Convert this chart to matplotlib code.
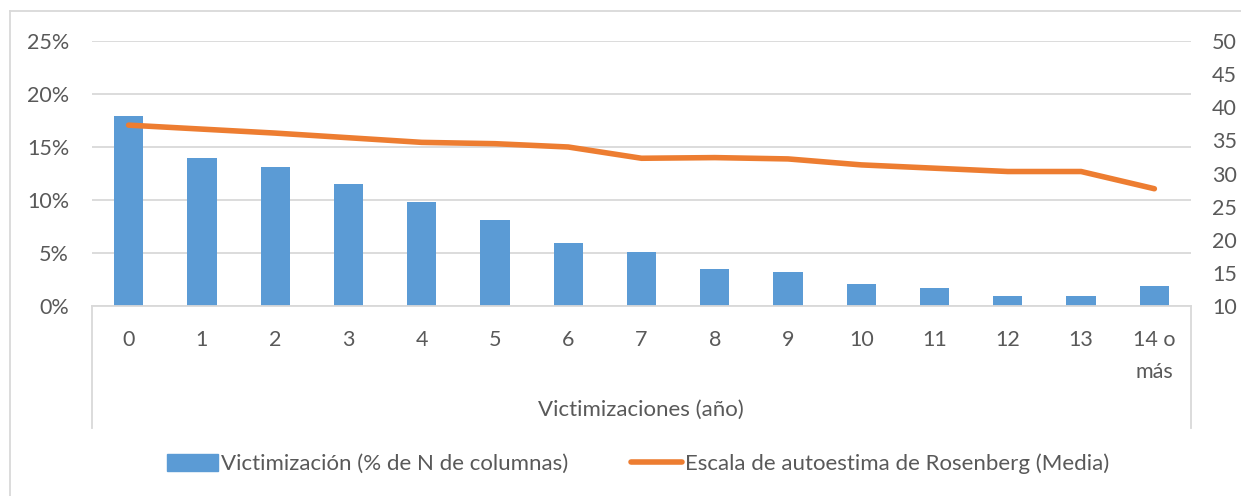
import matplotlib.pyplot as plt
import numpy as np
from matplotlib.lines import Line2D
from matplotlib.ticker import FuncFormatter

plt.rcParams['font.family'] = ['Lato', 'DejaVu Sans']

# Data
categories = ["0", "1", "2", "3", "4", "5", "6", "7", "8", "9", "10", "11", "12", "13", "14 o\nmás"]
victimizacion = [17.9, 14.0, 13.1, 11.5, 9.8, 8.1, 5.9, 5.1, 3.45, 3.2, 2.1, 1.7, 0.97, 0.94, 1.9]
rosenberg = [37.3, 36.7, 36.1, 35.4, 34.7, 34.5, 34.0, 32.3, 32.4, 32.2, 31.3, 30.8, 30.3, 30.3, 27.7]

W, H = 1241, 496
text_col = "#595959"
grid_col = "#d9d9d9"
bar_col = "#5b9bd5"
line_col = "#ed7d31"
fs = 15.5

fig = plt.figure(figsize=(W / 100, H / 100), dpi=100)

# plot area in pixels: x 92..1191, y 41..306
x0, x1, y0, y1 = 92, 1191, 41, 306
ax = fig.add_axes([x0 / W, 1 - y1 / H, (x1 - x0) / W, (y1 - y0) / H])
x = np.arange(len(categories))

ax.bar(x, victimizacion, width=0.4, color=bar_col, zorder=2)
ax.set_xlim(-0.5, len(categories) - 0.5)
ax.set_ylim(0, 25)
ax.set_yticks(np.arange(0, 26, 5))
ax.yaxis.set_major_formatter(FuncFormatter(lambda v, p: f"{v:.0f}%"))
ax.grid(axis="y", color=grid_col, linewidth=1.3, zorder=0)
ax.set_axisbelow(True)
for s in ["top", "right", "left"]:
    ax.spines[s].set_visible(False)
ax.spines["bottom"].set_color(grid_col)
ax.spines["bottom"].set_linewidth(1.3)
ax.tick_params(axis="y", length=0, pad=16.5, labelsize=fs, labelcolor=text_col)
ax.set_xticks(x)
ax.set_xticklabels(categories, va="top", ha="center", linespacing=1.75)
ax.tick_params(axis="x", length=0, pad=17, labelsize=fs, labelcolor=text_col)

ax2 = ax.twinx()
ax2.plot(x, rosenberg, color=line_col, linewidth=4, solid_capstyle="round", zorder=3)
ax2.set_ylim(10, 50)
ax2.set_yticks(np.arange(10, 51, 5))
for s in ["top", "right", "left", "bottom"]:
    ax2.spines[s].set_visible(False)
ax2.tick_params(axis="y", length=0, pad=15, labelsize=fs, labelcolor=text_col)

# category box lines below the axis
for px in (x0, x1):
    fig.add_artist(Line2D([px / W, px / W], [1 - y1 / H, 1 - 428 / H],
                          transform=fig.transFigure, color=grid_col, linewidth=1.3))

# outer chart frame (left and top visible)
fig.add_artist(Line2D([10 / W, 10 / W], [0, 1 - 11 / H], transform=fig.transFigure,
                      color=grid_col, linewidth=1.3))
fig.add_artist(Line2D([10 / W, 1], [1 - 11 / H, 1 - 11 / H], transform=fig.transFigure,
                      color=grid_col, linewidth=1.3))

fig.text(641 / W, 1 - 410 / H, "Victimizaciones (año)", ha="center", va="center",
         fontsize=16, color=text_col)

# legend
handles = [plt.Rectangle((0, 0), 1, 1, color=bar_col),
           Line2D([0], [0], color=line_col, linewidth=4, solid_capstyle="round")]
labels = ["Victimización (% de N de columnas)", "Escala de autoestima de Rosenberg (Media)"]
fig.legend(handles, labels, loc="center", bbox_to_anchor=(638 / W, 1 - 464 / H), ncol=2,
           frameon=False, fontsize=16, labelcolor=text_col, handlelength=2.3,
           handleheight=0.8, handletextpad=0.15, columnspacing=2.8)

fig.savefig("out.png", dpi=100)
